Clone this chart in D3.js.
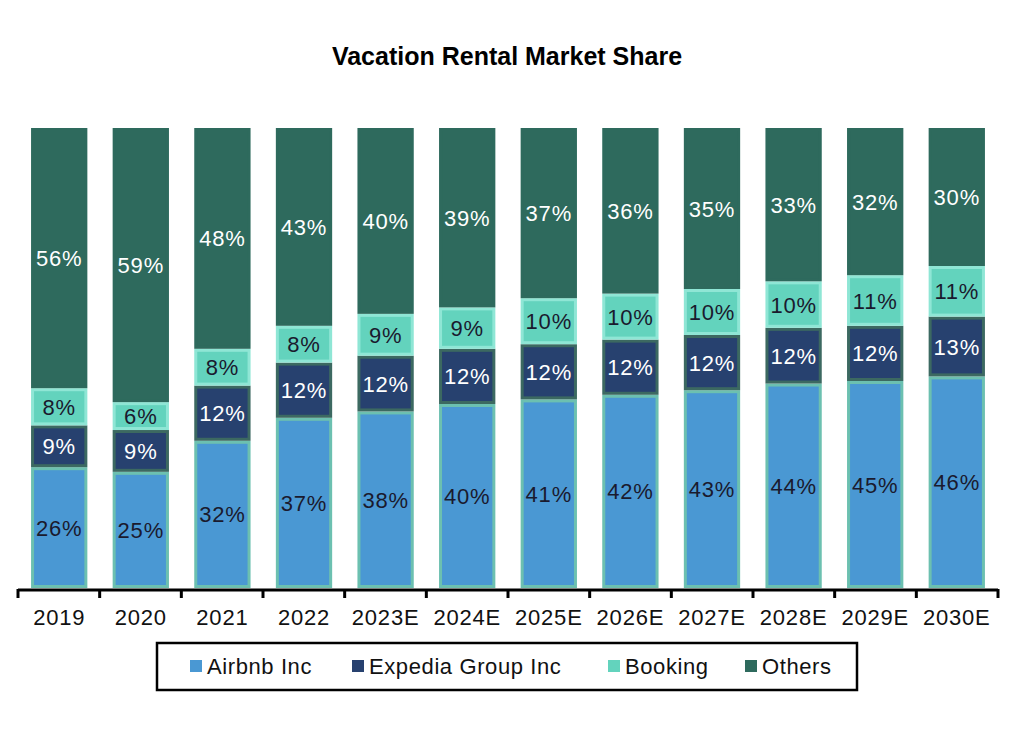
<!DOCTYPE html>
<html>
<head>
<meta charset="utf-8">
<script src="https://cdn.jsdelivr.net/npm/d3@7"></script>
<style>
body { margin: 0; background: #fff; font-family: "Liberation Sans", Arial, sans-serif; }
</style>
</head>
<body>
<svg width="1024" height="732"></svg>
<script>
var years = ["2019", "2020", "2021", "2022", "2023E", "2024E", "2025E", "2026E", "2027E", "2028E", "2029E", "2030E"];
var airbnb = [26, 25, 32, 37, 38, 40, 41, 42, 43, 44, 45, 46];
var expedia = [9, 9, 12, 12, 12, 12, 12, 12, 12, 12, 12, 13];
var booking = [8, 6, 8, 8, 9, 9, 10, 10, 10, 10, 11, 11];
var others = [56, 59, 48, 43, 40, 39, 37, 36, 35, 33, 32, 30];

var series = [
    {name: "Airbnb Inc", values: airbnb, fill: "#4a98d3", stroke: "#6cc0b0", text: "#1a1a2e"},
    {name: "Expedia Group Inc", values: expedia, fill: "#27416f", stroke: "#3c6961", text: "#ffffff"},
    {name: "Booking", values: booking, fill: "#63d3bd", stroke: "#8fe6d5", text: "#1a1a2e"},
    {name: "Others", values: others, fill: "#2e6a5d", stroke: "#2e6a5d", text: "#ffffff"}
];

var svg = d3.select("svg");
var plotLeft = 18, plotRight = 998, plotTop = 128, base = 588;

var x = d3.scaleBand().domain(years).range([plotLeft, plotRight]).paddingInner(0.31).paddingOuter(0.16);
var y = d3.scaleLinear().domain([0, 1]).range([base, plotTop]);

svg.append("text")
    .attr("x", 507).attr("y", 65)
    .attr("text-anchor", "middle")
    .attr("font-size", 25).attr("font-weight", "bold")
    .text("Vacation Rental Market Share");

var rows = years.map(function (yr, i) {
    var r = {year: yr};
    series.forEach(function (s) { r[s.name] = s.values[i]; });
    return r;
});
var stack = d3.stack().keys(series.map(function (s) { return s.name; })).offset(d3.stackOffsetExpand);
var layers = stack(rows);

layers.forEach(function (layer, li) {
    var s = series[li];
    var g = svg.append("g");
    g.selectAll("rect").data(layer).enter().append("rect")
        .attr("x", function (d) { return x(d.data.year) + 1.5; })
        .attr("width", x.bandwidth() - 3)
        .attr("y", function (d) { return y(d[1]) + 1.5; })
        .attr("height", function (d) { return Math.max(0, y(d[0]) - y(d[1]) - 3); })
        .attr("fill", s.fill)
        .attr("stroke", s.stroke)
        .attr("stroke-width", 3);
    g.selectAll("text").data(layer).enter().append("text")
        .attr("x", function (d) { return x(d.data.year) + x.bandwidth() / 2; })
        .attr("y", function (d) { return (y(d[0]) + y(d[1])) / 2 + 8; })
        .attr("text-anchor", "middle")
        .attr("font-size", 22)
        .attr("letter-spacing", 0.8)
        .attr("fill", s.text)
        .text(function (d) { return d.data[s.name] + "%"; });
});

// axis
var axis = svg.append("g");
axis.append("line").attr("x1", plotLeft).attr("x2", plotRight).attr("y1", base + 2).attr("y2", base + 2)
    .attr("stroke", "#000").attr("stroke-width", 3);
d3.range(years.length + 1).forEach(function (i) {
    var xx = plotLeft + i * (plotRight - plotLeft) / years.length;
    axis.append("line").attr("x1", xx).attr("x2", xx).attr("y1", base + 1).attr("y2", base + 10)
        .attr("stroke", "#000").attr("stroke-width", 3);
});
axis.selectAll("text.tick").data(years).enter().append("text")
    .attr("x", function (d) { return x(d) + x.bandwidth() / 2; })
    .attr("y", 625)
    .attr("text-anchor", "middle")
    .attr("font-size", 22)
    .attr("letter-spacing", 0.8)
    .attr("fill", "#111")
    .text(function (d) { return d; });

// legend
svg.append("rect").attr("x", 157).attr("y", 643).attr("width", 700).attr("height", 47)
    .attr("fill", "#fff").attr("stroke", "#000").attr("stroke-width", 2.5);
var legX = [190, 352, 608, 745];
series.forEach(function (s, i) {
    svg.append("rect").attr("x", legX[i]).attr("y", 660).attr("width", 12).attr("height", 12)
        .attr("fill", s.fill);
    svg.append("text").attr("x", legX[i] + 17).attr("y", 674)
        .attr("font-size", 22).attr("letter-spacing", 0.6).attr("fill", "#111").text(s.name);
});
</script>
</body>
</html>
